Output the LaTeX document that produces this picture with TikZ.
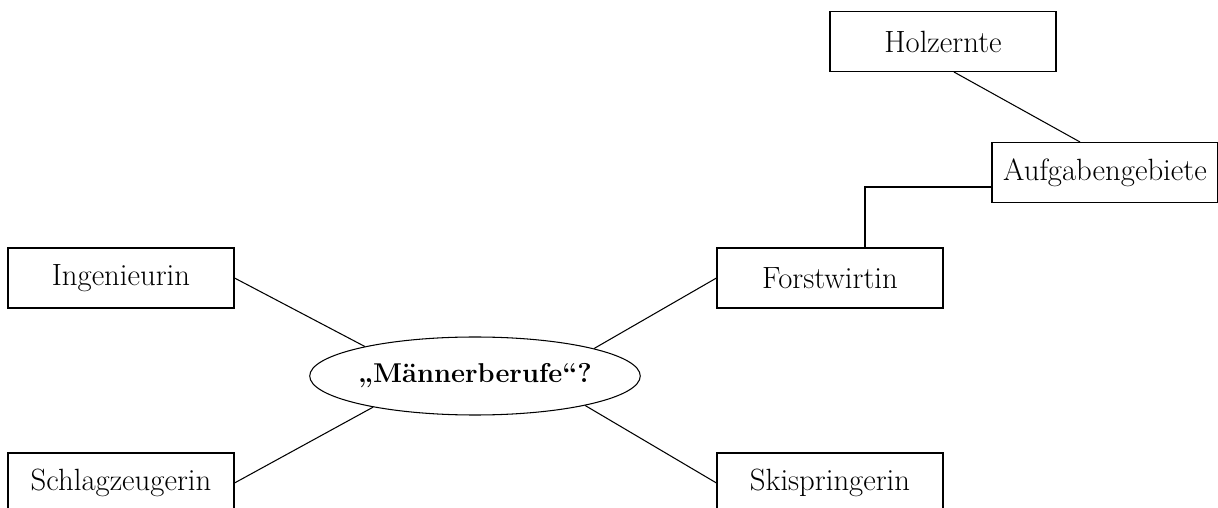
\documentclass[tikz,border=0pt]{standalone}
\usepackage{tikz}
\usetikzlibrary{positioning}
\usetikzlibrary{shapes.geometric}

\tikzset{
  job/.style={draw, line width=0.6pt, minimum width=4.52cm, minimum height=1.2cm,
    inner sep=0pt, font=\fontsize{17.5}{20}\selectfont},
  topic/.style={draw, ellipse, line width=0.6pt, minimum width=6.48cm, minimum height=1.56cm,
    inner sep=0pt, font=\fontsize{15.5}{19}\bfseries},
  link/.style={line width=0.6pt}
}

\begin{document}
\begin{tikzpicture}[on grid]
    \useasboundingbox (-9.5,-2.64) rectangle (14.86,7.52);
    \clip (-9.5,-2.64) rectangle (14.86,7.52);

    \node[topic] (m) at (0,0) {„Männerberufe“?};
    \node[job, above left=1.96cm and 7.08cm of m] (ing) {Ingenieurin};
    \node[job, below left=2.14cm and 7.08cm of m] (schlag) {Schlagzeugerin};
    \node[job, above right=1.96cm and 7.10cm of m] (forst) {Forstwirtin};
    \node[job, below right=2.14cm and 7.10cm of m] (ski) {Skispringerin};
    \node[job, above right=2.11cm and 5.5cm of forst] (aufg) {Aufgabengebiete};
    \node[job, above left=2.62cm and 3.24cm of aufg] (holz) {Holzernte};

    \draw[link] (ing.east) -- (m.165);
    \draw[link] (schlag.east) -- (m.197);
    \draw[link] (forst.west) -- (m.13);
    \draw[link] (ski.west) -- (m.-15);
    \draw[link] ([xshift=0.7cm]forst.north) |- ([yshift=-0.29cm]aufg.west);
    \draw[link] ([xshift=0.22cm]holz.south) -- ([xshift=-0.5cm]aufg.north);
  \end{tikzpicture}
\end{document}
